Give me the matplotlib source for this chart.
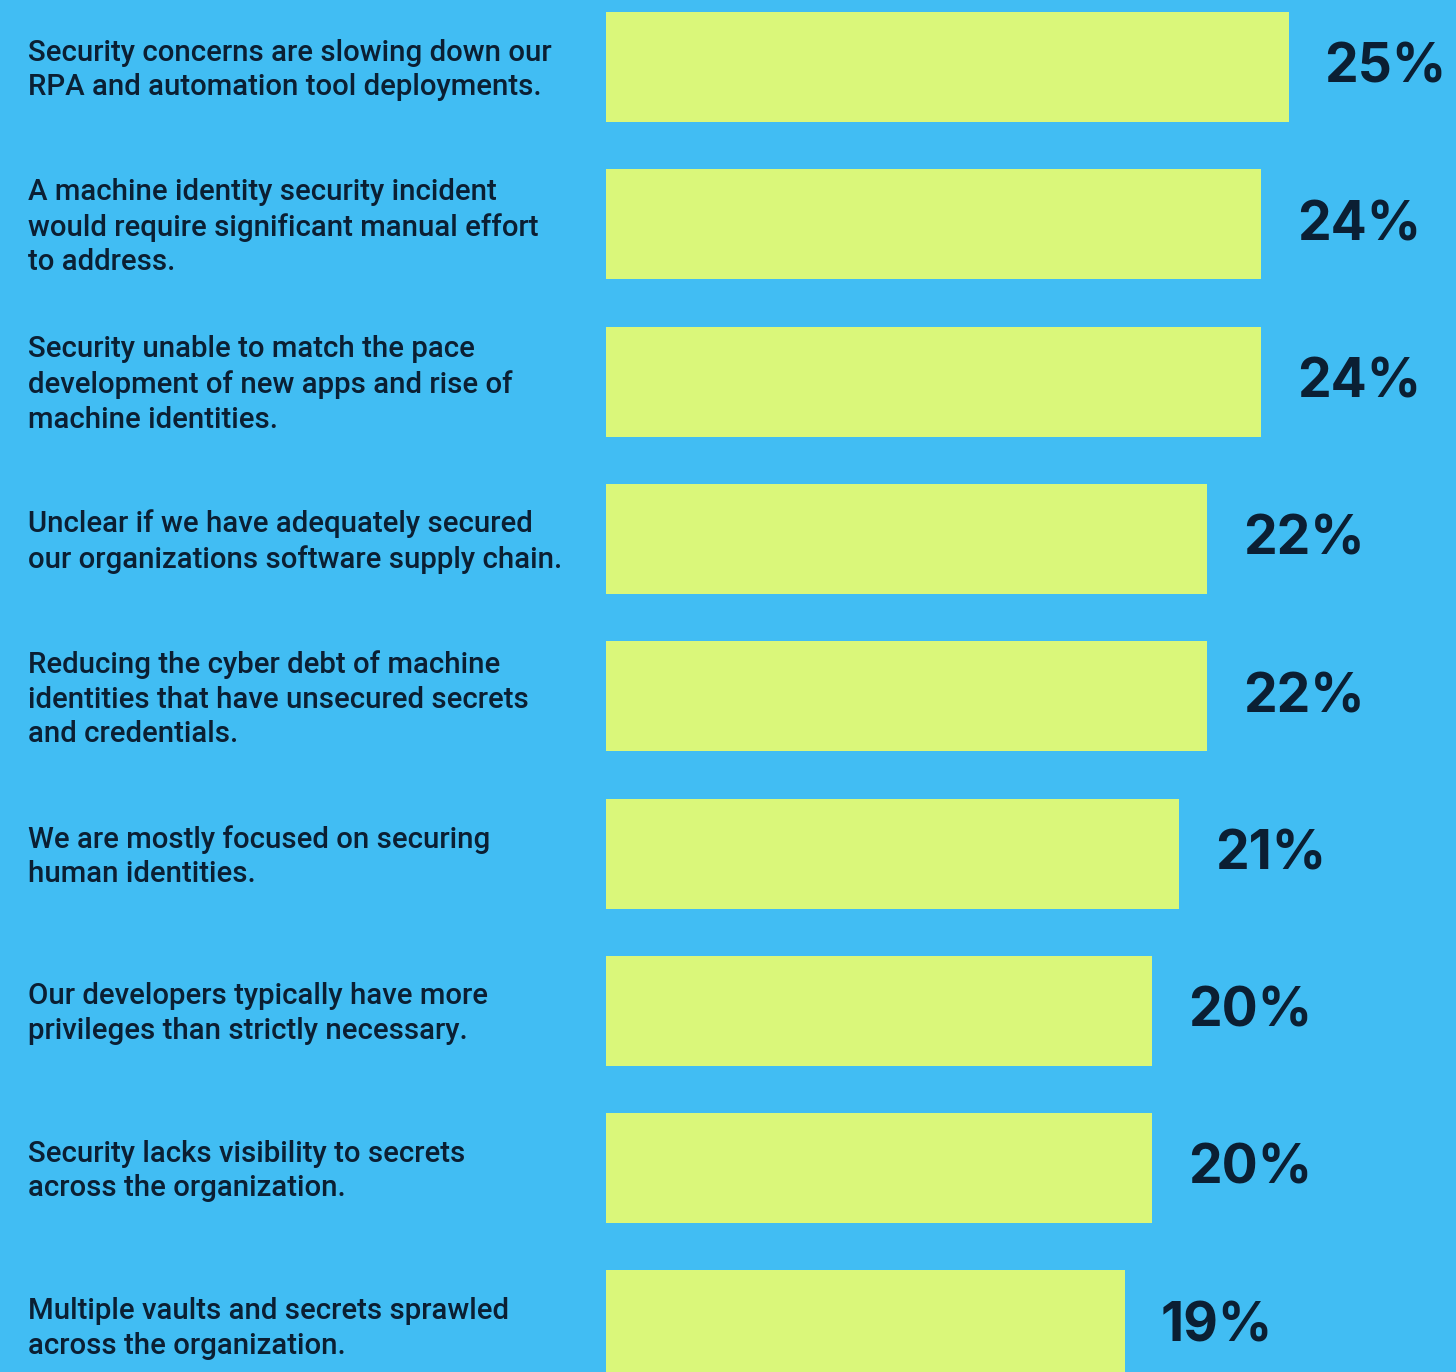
import matplotlib.pyplot as plt
from matplotlib.transforms import blended_transform_factory

# survey statements and share of respondents
statements = [
    "Security concerns are slowing down our\nRPA and automation tool deployments.",
    "A machine identity security incident\nwould require significant manual effort\nto address.",
    "Security unable to match the pace\ndevelopment of new apps and rise of\nmachine identities.",
    "Unclear if we have adequately secured\nour organizations software supply chain.",
    "Reducing the cyber debt of machine\nidentities that have unsecured secrets\nand credentials.",
    "We are mostly focused on securing\nhuman identities.",
    "Our developers typically have more\nprivileges than strictly necessary.",
    "Security lacks visibility to secrets\nacross the organization.",
    "Multiple vaults and secrets sprawled\nacross the organization.",
]
shares = [25, 24, 24, 22, 22, 21, 20, 20, 19]

bg = "#41bdf3"
bar_col = "#daf77a"
ink = "#0b1f33"

W, H = 1456, 1372
fig = plt.figure(figsize=(W / 100, H / 100), dpi=100, facecolor=bg)
ax = fig.add_axes([0, 0, 1, 1])
ax.set_facecolor(bg)

# pixels per percentage point, bars start at x=606 px
k = 27.3
x0 = 606
pitch = 157.3
ax.set_xlim(-x0 / k, (W - x0) / k)
ax.set_ylim((H - 67) / pitch, -67 / pitch)

ypos = list(range(len(shares)))
ax.barh(ypos, shares, height=110 / pitch, color=bar_col, linewidth=0)

for y, v in zip(ypos, shares):
    ax.annotate(f"{v}%", (v, y), xytext=(26, -1), textcoords="offset points",
                va="center", ha="left", fontsize=38.5, fontweight="bold",
                color=ink, family="Inter")

trans = blended_transform_factory(fig.transFigure, ax.transData)
for y, s in zip(ypos, statements):
    ax.text(28 / W, y + 3 / pitch, s, transform=trans, va="center", ha="left",
            fontsize=21.2, fontweight="medium", color=ink, family="Roboto",
            linespacing=1.3)

ax.axis("off")
fig.savefig("out.png", dpi=100, facecolor=bg)
